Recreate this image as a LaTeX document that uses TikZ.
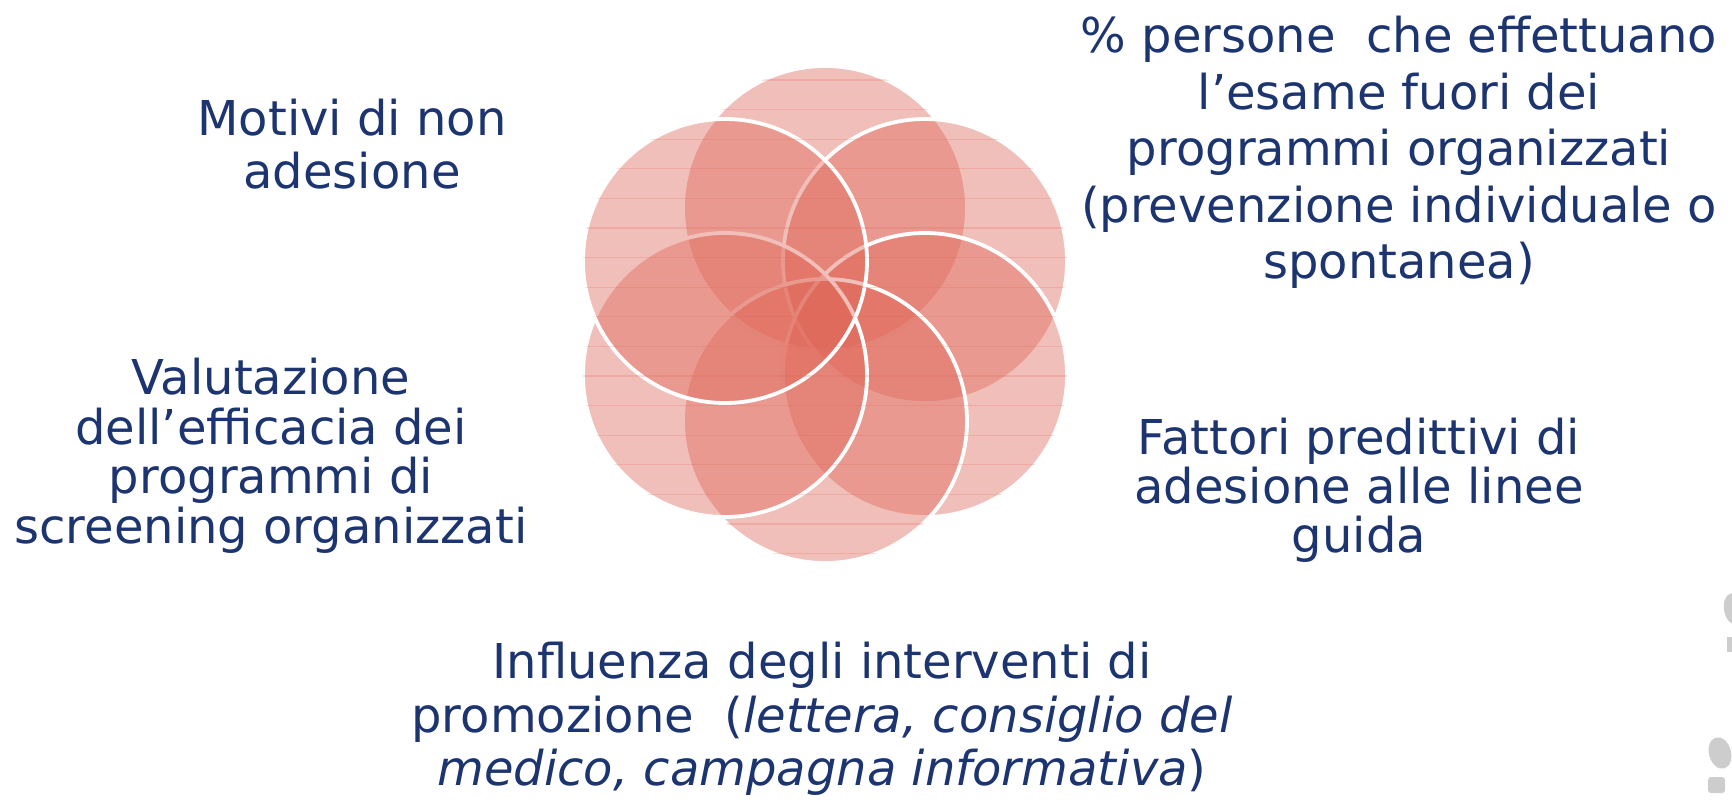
\documentclass[tikz,border=0pt]{standalone}
\usepackage{fontspec}
\setmainfont{DejaVu Sans}
\definecolor{navy}{RGB}{28,52,112}
\definecolor{petalred}{RGB}{222,100,85}
\definecolor{printgray}{RGB}{205,205,205}
\begin{document}
\begin{tikzpicture}[x=1pt,y=-1pt,
  petal/.style={circle, minimum size=284pt, inner sep=0pt, fill=petalred, fill opacity=0.41, draw=white, line width=3.8pt},
  lab/.style={text=navy, align=center, inner sep=0pt, anchor=north},
  shoe/.style={fill=printgray, draw=none}]
\useasboundingbox (0,0) rectangle (1732,803);
% petals, drawn in layering order
\node[petal] (T)  at (825,208) {};
\node[petal] (UR) at (925,261) {};
\node[petal] (LR) at (925,375) {};
\node[petal] (B)  at (825,421) {};
\node[petal] (LL) at (725,375) {};
\node[petal] (UL) at (725,261) {};
% faint horizontal texture
\begin{scope}
  \clip (825,208) circle (142) (925,261) circle (142) (925,375) circle (142)
        (825,421) circle (142) (725,375) circle (142) (725,261) circle (142);
  \foreach \k in {0,...,17}
    \draw[petalred, opacity=0.22, line width=1.3pt] (560,{80+29.6*\k}) -- (1090,{80+29.6*\k});
\end{scope}
% labels
\node[lab, font=\fontsize{48}{53}\selectfont] (l1) at (352,99) {Motivi di non\\adesione};
\node[lab, font=\fontsize{48}{56.5}\selectfont] (l2) at (1399,16) {\%\ persone\ \ che effettuano\\l’esame fuori dei\\programmi organizzati\\(prevenzione individuale o\\spontanea)};
\node[lab, font=\fontsize{48}{49.5}\selectfont] (l3) at (271,358) {Valutazione\\dell’efficacia dei\\programmi di\\screening organizzati};
\node[lab, font=\fontsize{48}{49}\selectfont] (l4) at (1359,418) {Fattori predittivi di\\adesione alle linee\\guida};
\node[lab, font=\fontsize{48}{53.5}\selectfont] (l5) at (822,642) {Influenza degli interventi di\\promozione\ \ (\textit{lettera, consiglio del}\\\textit{medico, campagna informativa})};
% footprints at right edge
\fill[shoe, rotate around={10:(1734,609)}] (1734,609) ellipse (10 and 16);
\fill[shoe] (1727,637) rectangle (1736,652);
\fill[shoe, rotate around={15:(1720,753)}] (1720,753) ellipse (11 and 16);
\fill[shoe, rounded corners=3pt] (1708,777) rectangle (1725,793);
\end{tikzpicture}
\end{document}
